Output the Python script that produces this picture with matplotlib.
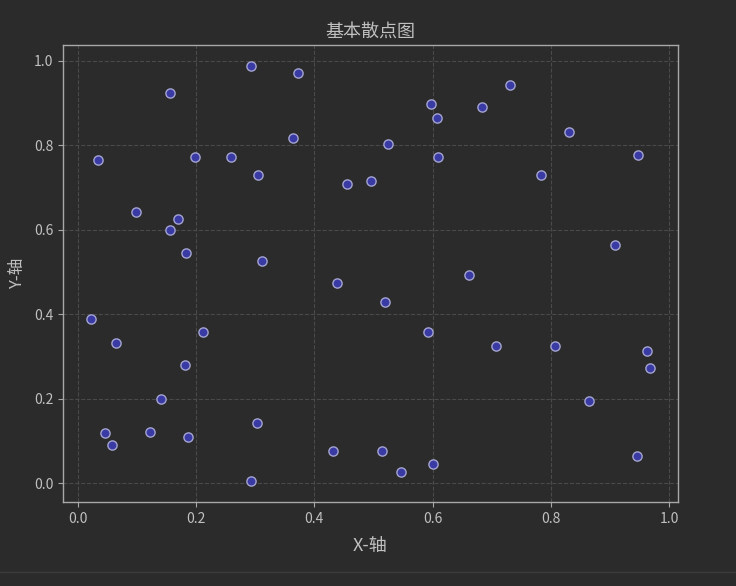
import matplotlib
matplotlib.use("Agg")
import matplotlib.pyplot as plt

plt.rcParams['font.family'] = ['Noto Sans CJK SC', 'DejaVu Sans']
plt.rcParams['axes.unicode_minus'] = False

x_vals = [0.034, 0.022, 0.064, 0.046, 0.058, 0.098, 0.122, 0.141, 0.156, 0.156,
          0.169, 0.183, 0.181, 0.186, 0.198, 0.212, 0.259, 0.292, 0.292, 0.305,
          0.303, 0.312, 0.364, 0.373, 0.431, 0.439, 0.456, 0.495, 0.514, 0.520,
          0.524, 0.546, 0.592, 0.597, 0.600, 0.607, 0.610, 0.661, 0.683, 0.707,
          0.731, 0.783, 0.807, 0.831, 0.864, 0.908, 0.947, 0.946, 0.963, 0.968]
y_vals = [0.764, 0.388, 0.333, 0.118, 0.090, 0.641, 0.121, 0.199, 0.924, 0.600,
          0.626, 0.544, 0.281, 0.109, 0.773, 0.359, 0.773, 0.988, 0.005, 0.730,
          0.142, 0.525, 0.818, 0.972, 0.076, 0.473, 0.709, 0.716, 0.076, 0.430,
          0.804, 0.026, 0.359, 0.898, 0.045, 0.865, 0.773, 0.494, 0.891, 0.326,
          0.943, 0.730, 0.326, 0.832, 0.196, 0.563, 0.778, 0.064, 0.312, 0.272]

title = "基本散点图"
xlabel = "X-轴"
ylabel = "Y-轴"

bg = '#2b2b2b'
txt = '#c0c0c0'
spine_c = '#a8a8a8'

fig = plt.figure(figsize=(7.36, 5.86), dpi=100, facecolor=bg)
ax = fig.add_axes([0.0856, 0.1433, 0.8356, 0.7799])
ax.set_facecolor(bg)

ax.scatter(x_vals, y_vals, s=44, facecolor='#3a3aa4', edgecolor='#a4a4d0',
           linewidth=1.0, zorder=3)

ax.set_title(title, color=txt, fontsize=13, pad=6)
ax.set_xlabel(xlabel, color=txt, fontsize=13, labelpad=8)
ax.set_ylabel(ylabel, color=txt, fontsize=12, labelpad=6)

ax.set_xticks([0.0, 0.2, 0.4, 0.6, 0.8, 1.0])
ax.set_yticks([0.0, 0.2, 0.4, 0.6, 0.8, 1.0])
ax.tick_params(colors=txt, labelsize=10, color=spine_c)
for s in ax.spines.values():
    s.set_color(spine_c)
    s.set_linewidth(1.0)

ax.grid(True, linestyle='--', color='#4a4a4a', linewidth=0.8)
ax.set_axisbelow(True)

fig.add_artist(plt.Line2D([0, 1], [1 - 572/586, 1 - 572/586], color='#3c3c3c',
                          linewidth=1, transform=fig.transFigure))

fig.savefig("out.png", dpi=100, facecolor=bg)
